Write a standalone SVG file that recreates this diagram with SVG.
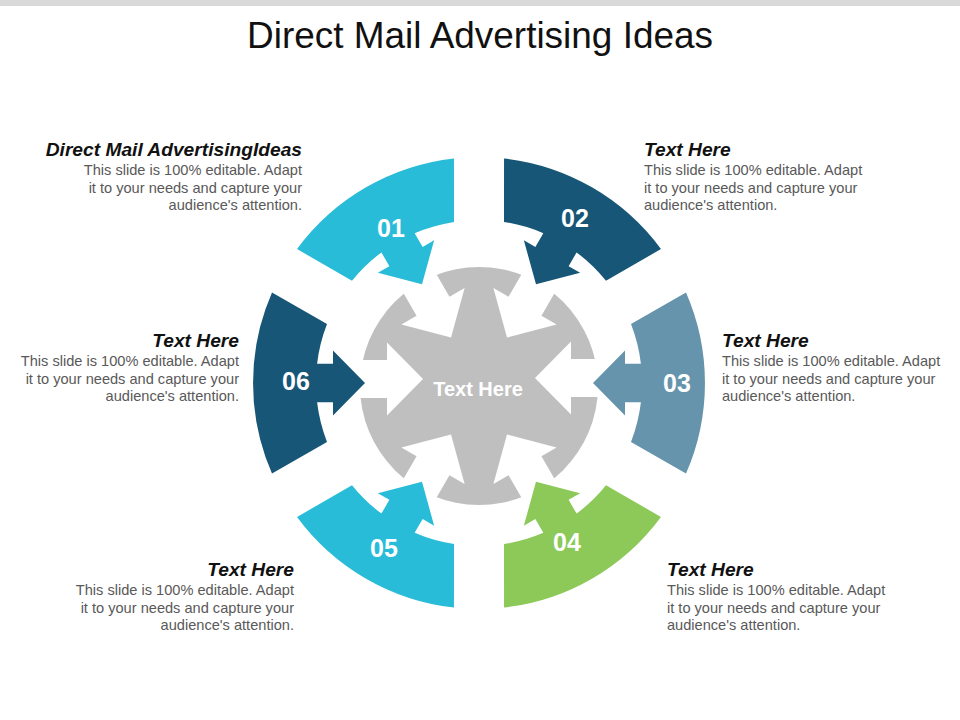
<svg xmlns="http://www.w3.org/2000/svg" xmlns:xlink="http://www.w3.org/1999/xlink" width="960" height="720" viewBox="0 0 960 720">
<style>
.title{font-family:"Liberation Sans",Arial,sans-serif;font-size:36px;fill:#111;}
.hd{font-family:"Liberation Sans",Arial,sans-serif;font-size:19.2px;font-weight:bold;font-style:italic;fill:#111;}
.bd{font-family:"Liberation Sans",Arial,sans-serif;font-size:14.6px;fill:#595959;}
.num{font-family:"Liberation Sans",Arial,sans-serif;font-size:25px;font-weight:bold;fill:#fff;text-anchor:middle;}
.ctr{font-family:"Liberation Sans",Arial,sans-serif;font-size:20px;font-weight:bold;fill:#fff;text-anchor:middle;}
.r{text-anchor:end;}
.cyan{fill:#29BCD8;}
.dark{fill:#175676;}
.steel{fill:#6594AC;}
.green{fill:#8CC959;}
</style>
<defs>
<path id="seg" d="M -207.0,-90.6 A 226,226 0 0,0 -207.0,90.6 L -152.0,58.9 A 163,163 0 0,1 -161.9,19.2 L -146,19.2 L -146,32.5 L -114,0 L -146,-32.5 L -146,-19.2 L -161.9,-19.2 A 163,163 0 0,1 -152.0,-58.9 Z"/>
<path id="notch" d="M -140,-19 L -92,-19 L -92,-36.5 L -56,0 L -92,36.5 L -92,19 L -140,19 Z"/>
<mask id="gm" maskUnits="userSpaceOnUse" x="0" y="0" width="960" height="720">
<circle cx="479" cy="386" r="119" fill="#fff"/>
<use xlink:href="#notch" fill="#000" transform="translate(479,379)"/>
<use xlink:href="#notch" fill="#000" transform="translate(479,386) rotate(60)"/>
<use xlink:href="#notch" fill="#000" transform="translate(479,386) rotate(120)"/>
<use xlink:href="#notch" fill="#000" transform="translate(479,378) rotate(180)"/>
<use xlink:href="#notch" fill="#000" transform="translate(479,386) rotate(240)"/>
<use xlink:href="#notch" fill="#000" transform="translate(479,386) rotate(300)"/>
</mask>
</defs>
<rect x="0" y="0" width="960" height="720" fill="#fff"/>
<rect x="0" y="0" width="960" height="6" fill="#D9D9D9"/>
<text class="title" x="480" y="48" text-anchor="middle" textLength="466" lengthAdjust="spacingAndGlyphs">Direct Mail Advertising  Ideas</text>

<g id="center">
<rect x="350" y="260" width="260" height="255" fill="#BFBFBF" mask="url(#gm)"/>
<text class="ctr" x="478" y="396">Text Here</text>
</g>

<g id="seg01"><use xlink:href="#seg" class="cyan" transform="translate(479,383) rotate(60)"/><text class="num" x="391" y="237">01</text></g>
<g id="seg02"><use xlink:href="#seg" class="dark" transform="translate(479,383) rotate(120)"/><text class="num" x="575" y="227">02</text></g>
<g id="seg03"><use xlink:href="#seg" class="steel" transform="translate(479,383) rotate(180)"/><text class="num" x="677" y="392">03</text></g>
<g id="seg04"><use xlink:href="#seg" class="green" transform="translate(479,383) rotate(240)"/><text class="num" x="567" y="551">04</text></g>
<g id="seg05"><use xlink:href="#seg" class="cyan" transform="translate(479,383) rotate(300)"/><text class="num" x="384" y="557">05</text></g>
<g id="seg06"><use xlink:href="#seg" class="dark" transform="translate(479,383)"/><text class="num" x="296" y="390">06</text></g>

<g id="text01">
<text class="hd r" x="302" y="156">Direct Mail AdvertisingIdeas</text>
<text class="bd r" x="302" y="175">This slide is 100% editable. Adapt</text>
<text class="bd r" x="302" y="192.5">it to your needs and capture your</text>
<text class="bd r" x="302" y="210">audience's attention.</text>
</g>
<g id="text02">
<text class="hd" x="644" y="156">Text Here</text>
<text class="bd" x="644" y="175">This slide is 100% editable. Adapt</text>
<text class="bd" x="644" y="192.5">it to your needs and capture your</text>
<text class="bd" x="644" y="210">audience's attention.</text>
</g>
<g id="text06">
<text class="hd r" x="239" y="347">Text Here</text>
<text class="bd r" x="239" y="366">This slide is 100% editable. Adapt</text>
<text class="bd r" x="239" y="383.5">it to your needs and capture your</text>
<text class="bd r" x="239" y="401">audience's attention.</text>
</g>
<g id="text03">
<text class="hd" x="722" y="347">Text Here</text>
<text class="bd" x="722" y="366">This slide is 100% editable. Adapt</text>
<text class="bd" x="722" y="383.5">it to your needs and capture your</text>
<text class="bd" x="722" y="401">audience's attention.</text>
</g>
<g id="text05">
<text class="hd r" x="294" y="576">Text Here</text>
<text class="bd r" x="294" y="595">This slide is 100% editable. Adapt</text>
<text class="bd r" x="294" y="612.5">it to your needs and capture your</text>
<text class="bd r" x="294" y="630">audience's attention.</text>
</g>
<g id="text04">
<text class="hd" x="667" y="576">Text Here</text>
<text class="bd" x="667" y="595">This slide is 100% editable. Adapt</text>
<text class="bd" x="667" y="612.5">it to your needs and capture your</text>
<text class="bd" x="667" y="630">audience's attention.</text>
</g>
</svg>
